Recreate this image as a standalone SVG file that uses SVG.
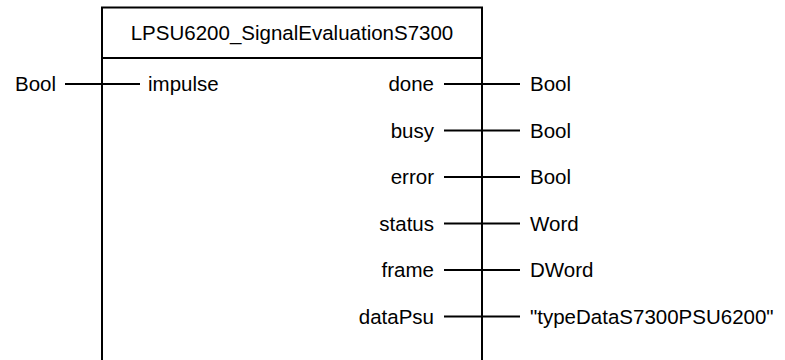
<svg xmlns="http://www.w3.org/2000/svg" width="785" height="360" viewBox="0 0 785 360">
<style>
text{font-family:"Liberation Sans",Arial,sans-serif;font-size:20.5px;fill:#000}
.ln{stroke:#000;stroke-width:2;fill:none}
.e{text-anchor:end}
.m{text-anchor:middle}
</style>
<rect width="785" height="360" fill="#fff"/>
<g id="block">
<path class="ln" d="M102 370V7.5H482V370M102 58H482"/>
<text class="m" x="292" y="40">LPSU6200_SignalEvaluationS7300</text>
<text x="148" y="91">impulse</text>
<text class="e" x="434" y="91">done</text>
<text class="e" x="434" y="137.5">busy</text>
<text class="e" x="434" y="184">error</text>
<text class="e" x="434" y="230.5">status</text>
<text class="e" x="434" y="277">frame</text>
<text class="e" x="434" y="323.5">dataPsu</text>
</g>
<g id="types">
<text class="e" x="56" y="91">Bool</text>
<text x="530" y="91">Bool</text>
<text x="530" y="137.5">Bool</text>
<text x="530" y="184">Bool</text>
<text x="530" y="230.5">Word</text>
<text x="530" y="277">DWord</text>
<text x="530" y="323.5">"typeDataS7300PSU6200"</text>
</g>
<g id="connectors">
<path class="ln" d="M65 84H140M444 84H520M444 130.5H520M444 177H520M444 223.5H520M444 270H520M444 316.5H520"/>
</g>
</svg>
